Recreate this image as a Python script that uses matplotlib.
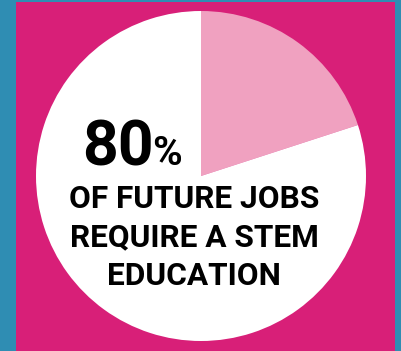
import matplotlib
matplotlib.use("Agg")
import matplotlib.pyplot as plt
from matplotlib.patches import Rectangle

# data
shares = [20, 80]
share_labels = ["STEM", "other"]
big_number = "80"
big_sign = "%"
caption_lines = ["OF FUTURE JOBS", "REQUIRE A STEM", "EDUCATION"]

blue = "#2f8db3"
magenta = "#d81f78"
pink = "#f0a1c0"

W, H = 401, 351
fig = plt.figure(figsize=(W / 100, H / 100), dpi=100, facecolor=blue)
ax = fig.add_axes([0, 0, 1, 1])
ax.set_facecolor(blue)

ax.add_patch(Rectangle((16, 0), 379, 349, facecolor=magenta, edgecolor="none", zorder=0))

ax.pie(shares, colors=[pink, "white"], startangle=90, counterclock=False,
       center=(201, H - 176), radius=165, frame=True,
       wedgeprops=dict(linewidth=0))

ax.set_xlim(0, W)
ax.set_ylim(0, H)
ax.set_aspect("auto")
ax.axis("off")

font = ["Roboto", "DejaVu Sans"]
ax.text(82, H - 165, big_number, fontsize=45, fontweight="bold", family=font,
        ha="left", va="baseline", color="black")
ax.text(152, H - 165, big_sign, fontsize=29, fontweight="bold", family=font,
        ha="left", va="baseline", color="black")
baselines = [208, 246, 285]
for txt, yb in zip(caption_lines, baselines):
    ax.text(194, H - yb, txt, fontsize=22.8, fontweight="bold", family=font,
            ha="center", va="baseline", color="black")

fig.savefig("out.png", dpi=100, facecolor=blue)
